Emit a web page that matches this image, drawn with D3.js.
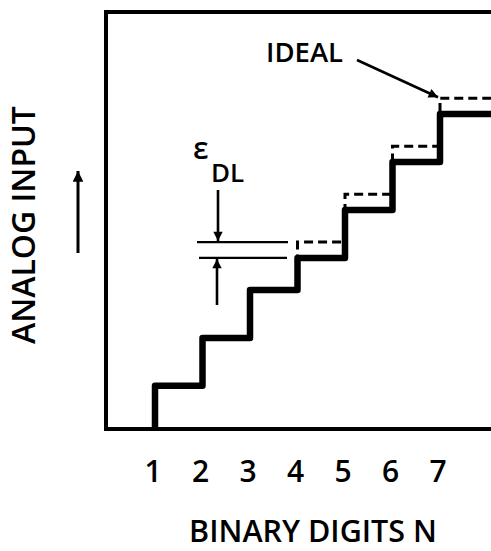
<!DOCTYPE html>
<html>
<head>
<meta charset="utf-8">
<script src="https://cdn.jsdelivr.net/npm/d3@7"></script>
<style>
  html, body { margin: 0; padding: 0; background: #fff; }
  svg { display: block; }
  text { font-family: "Open Sans", "DejaVu Sans", sans-serif; font-weight: 600; fill: #000; }
</style>
</head>
<body>
<script>
// Converter transfer curve: output code N against analog input level
const codes = [1, 2, 3, 4, 5, 6, 7];
// Measured (actual) step levels, in LSB: step 4 comes in short
const actualLevels = [1, 2, 3, 3.67, 4.67, 5.67, 6.67];
// Ideal step levels, in LSB
const idealLevels = [1, 2, 3, 4, 5, 6, 7];
const tickLabels = ["1", "2", "3", "4", "5", "6", "7"];

const W = 491, H = 551;
const svg = d3.select("body").append("svg").attr("width", W).attr("height", H);

// Plot frame
const frame = { left: 106, top: 12, right: 520, bottom: 429 };

const x = d3.scaleLinear().domain([1, 7]).range([155, 440]);
const y = d3.scaleLinear().domain([0.1, 8.8]).range([frame.bottom, frame.top]);

// Staircase path builder: rise at each code, then run to the next one
function stairs(levels, xEnd) {
  const p = d3.path();
  p.moveTo(x(codes[0]), frame.bottom);
  levels.forEach((v, i) => {
    p.lineTo(x(codes[i]), y(v));
    const nx = i < codes.length - 1 ? x(codes[i + 1]) : xEnd;
    p.lineTo(nx, y(v));
  });
  return p.toString();
}

// Arrowhead marker
const defs = svg.append("defs");
defs.append("marker")
  .attr("id", "head")
  .attr("viewBox", "0 0 10 10")
  .attr("refX", 10).attr("refY", 5)
  .attr("markerWidth", 6).attr("markerHeight", 3.6)
  .attr("markerUnits", "strokeWidth")
  .attr("orient", "auto")
  .append("path").attr("d", "M0,0 L10,5 L0,10 Z").attr("fill", "#000");

// Frame: left, top and bottom edges (right edge runs off the page)
svg.append("path")
  .attr("d", `M${frame.right},${frame.top} L${frame.left},${frame.top} L${frame.left},${frame.bottom} L${frame.right},${frame.bottom}`)
  .attr("fill", "none").attr("stroke", "#000").attr("stroke-width", 4);

// Ideal transfer curve (dashed)
svg.append("path")
  .attr("d", stairs(idealLevels, W + 10))
  .attr("fill", "none").attr("stroke", "#000")
  .attr("stroke-width", 3).attr("stroke-dasharray", "9,5");

// Actual transfer curve (heavy)
svg.append("path")
  .attr("d", stairs(actualLevels, W + 10))
  .attr("fill", "none").attr("stroke", "#000")
  .attr("stroke-width", 6.5).attr("stroke-linejoin", "round");

// Differential linearity error dimension at step 4
const eIdeal = y(idealLevels[3]), eActual = y(actualLevels[3]);
const dimX0 = 197, dimX1 = 288, arrowX = 218;
svg.append("line").attr("x1", dimX0).attr("x2", dimX1).attr("y1", eIdeal).attr("y2", eIdeal)
  .attr("stroke", "#000").attr("stroke-width", 2.2);
svg.append("line").attr("x1", dimX0 + 2).attr("x2", dimX1 - 1).attr("y1", eActual).attr("y2", eActual)
  .attr("stroke", "#000").attr("stroke-width", 2.2);
svg.append("line").attr("x1", arrowX).attr("x2", arrowX).attr("y1", 190).attr("y2", eIdeal - 1)
  .attr("stroke", "#000").attr("stroke-width", 2.6).attr("marker-end", "url(#head)");
svg.append("line").attr("x1", arrowX - 1).attr("x2", arrowX - 1).attr("y1", 305).attr("y2", eActual + 1)
  .attr("stroke", "#000").attr("stroke-width", 2.6).attr("marker-end", "url(#head)");

const eps = svg.append("text").attr("x", 193).attr("y", 159).attr("font-size", 30);
eps.append("tspan").text("ε");
eps.append("tspan").attr("x", 211).attr("y", 182).attr("font-size", 26).text("DL");

// IDEAL callout
svg.append("text").attr("x", 266).attr("y", 62).attr("font-size", 27.5).text("IDEAL");
svg.append("line").attr("x1", 357).attr("y1", 60)
  .attr("x2", x(codes[6]) - 2).attr("y2", y(idealLevels[6]) - 1)
  .attr("stroke", "#000").attr("stroke-width", 2.6).attr("marker-end", "url(#head)");

// X tick labels
svg.append("g").selectAll("text").data(codes).join("text")
  .attr("x", d => x(d) - 2).attr("y", 482)
  .attr("text-anchor", "middle").attr("font-size", 30)
  .text((d, i) => tickLabels[i]);

// Axis titles
svg.append("text").attr("x", 313).attr("y", 542).attr("text-anchor", "middle")
  .attr("font-size", 30.5).text("BINARY DIGITS N");

svg.append("text").attr("transform", "translate(35,225) rotate(-90)")
  .attr("text-anchor", "middle").attr("font-size", 32).text("ANALOG INPUT");

// Upward arrow beside the vertical title
svg.append("line").attr("x1", 78).attr("x2", 78).attr("y1", 253).attr("y2", 171)
  .attr("stroke", "#000").attr("stroke-width", 3).attr("marker-end", "url(#head)");
</script>
</body>
</html>
